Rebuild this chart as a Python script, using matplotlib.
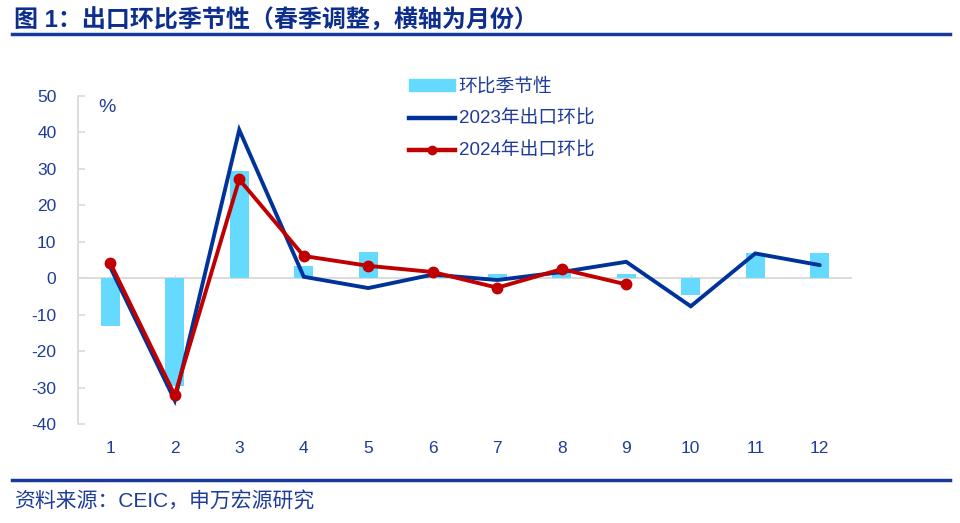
import matplotlib
matplotlib.use("Agg")
import matplotlib.pyplot as plt
from matplotlib.lines import Line2D

plt.rcParams['font.family'] = ['Liberation Sans', 'Noto Sans CJK SC', 'DejaVu Sans']

months = [1, 2, 3, 4, 5, 6, 7, 8, 9, 10, 11, 12]
seasonal = [-13.2, -29.7, 29.5, 3.4, 7.1, 0.3, 1.1, 1.8, 1.1, -4.7, 7.0, 7.0]
exp_2023 = [3.0, -33.5, 40.7, 0.4, -2.7, 1.0, -0.5, 1.7, 4.5, -7.7, 6.8, 3.6]
months_2024 = [1, 2, 3, 4, 5, 6, 7, 8, 9]
exp_2024 = [4.2, -32.1, 27.1, 6.1, 3.4, 1.7, -2.6, 2.5, -1.7]
yticks = [50, 40, 30, 20, 10, 0, -10, -20, -30, -40]

title = "图 1：出口环比季节性（春季调整，横轴为月份）"
source = "资料来源：CEIC，申万宏源研究"
labels = ["环比季节性", "2023年出口环比", "2024年出口环比"]

c_bar = "#66D9FF"
c_blue = "#003399"
c_red = "#C00000"
c_text = "#1F3C99"
c_axis = "#D9D9D9"

fig = plt.figure(figsize=(9.6, 5.23), dpi=100)
ax = fig.add_axes([78 / 960, 1 - 424 / 523, 774 / 960, 328 / 523])

ax.bar(months, seasonal, width=0.3, color=c_bar, zorder=2)
ax.axhline(0, color=c_axis, lw=1.3, zorder=1)
ax.vlines(months + [12.5], 0, 1.0, color=c_axis, lw=1.0, zorder=1)
ax.plot(months, exp_2023, color=c_blue, lw=2.8, zorder=3, solid_capstyle='round', solid_joinstyle='miter')
ax.plot(months_2024, exp_2024, color=c_red, lw=2.8, marker='o', ms=7.5, zorder=4)

ax.set_xlim(0.5, 12.5)
ax.set_ylim(-40, 50)
ax.set_yticks(yticks)
ax.set_yticklabels([str(v) for v in yticks])
ax.set_xticks(months)
ax.set_xticklabels([str(m) for m in months])

for s in ['top', 'right', 'bottom']:
    ax.spines[s].set_visible(False)
ax.spines['left'].set_color(c_axis)
ax.spines['left'].set_linewidth(1.3)
ax.tick_params(axis='y', direction='in', length=5, color=c_axis, width=1.2,
               labelcolor=c_text, labelsize=12.5, pad=15.5)
ax.tick_params(axis='x', length=0, labelcolor=c_text, labelsize=12.5, pad=12)

ax.text(98 / 960, 1 - 108 / 523, "%", transform=fig.transFigure, color=c_text,
        fontsize=14, va='center', ha='left')

handles = [
    plt.Rectangle((0, 0), 1, 1, color=c_bar),
    Line2D([], [], color=c_blue, lw=3.2),
    Line2D([], [], color=c_red, lw=3.2, marker='o', ms=6),
]
leg = fig.legend(handles, labels, loc='upper left', bbox_to_anchor=(396 / 960, 1 - 65 / 523),
                 frameon=False, fontsize=13.5, handlelength=2.45, handleheight=0.55,
                 labelspacing=0.8, handletextpad=0.2, borderpad=0.2)
for t in leg.get_texts():
    t.set_color(c_text)

fig.text(14 / 960, 1 - 20 / 523, title, fontsize=17.3, fontweight='bold', color="#0D2E8C",
         va='center', ha='left')
fig.add_artist(Line2D([12 / 960, 950 / 960], [1 - 34 / 523, 1 - 34 / 523],
                      color="#1A3A9A", lw=2.5, transform=fig.transFigure))
fig.add_artist(Line2D([12 / 960, 950 / 960], [1 - 480 / 523, 1 - 480 / 523],
                      color="#1A3A9A", lw=2.5, transform=fig.transFigure))
fig.text(14 / 960, 1 - 501 / 523, source, fontsize=15, color=c_text, va='center', ha='left')

fig.savefig("out.png", dpi=100)
